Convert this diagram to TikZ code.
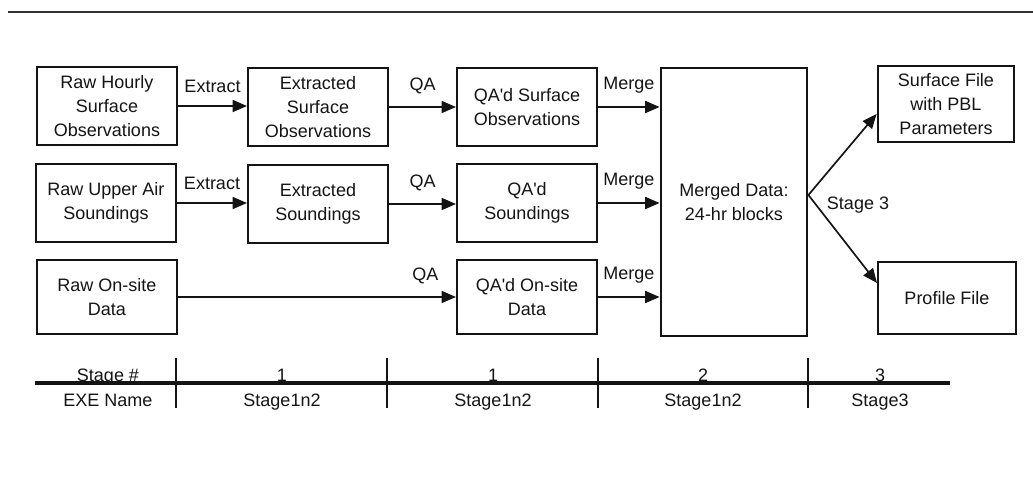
\documentclass[tikz,border=0pt]{standalone}
\usepackage{fontspec}
\setmainfont{Liberation Sans}
\usetikzlibrary{arrows.meta,calc}
\definecolor{ink}{HTML}{141414}

\begin{document}
\begin{tikzpicture}[
  x=0.025cm,y=-0.025cm,
  >={Triangle[length=0.36cm,width=0.3cm]},color=ink,line width=1.2pt,
  font=\fontsize{12.8}{17}\selectfont,
  box/.style={draw,align=center,inner sep=2pt,minimum width=3.5cm,minimum height=1.95cm,line width=1.4pt},
  lab/.style={above=8pt,inner sep=1pt},
  cell/.style={anchor=base,inner sep=0pt}
]
\useasboundingbox (0,0) rectangle (1033,493);
\draw[line width=1.8pt,black!80] (8,12) -- (1033,12);
\node[box] (rawsfc) at (107,106) {Raw Hourly\\Surface\\Observations};
\node[box] (extsfc) at (318,107) {Extracted\\Surface\\Observations};
\node[box] (qasfc) at (527,107) {QA\textquotesingle d Surface\\Observations};
\node[box] (rawua) at (106,203) {Raw Upper Air\\Soundings};
\node[box] (extua) at (318,204) {Extracted\\Soundings};
\node[box] (qaua) at (527,203) {QA\textquotesingle d\\Soundings};
\node[box,minimum height=1.85cm] (rawos) at (107,297) {Raw On-site\\Data};
\node[box,minimum height=1.85cm] (qaos) at (527,297) {QA\textquotesingle d On-site\\Data};
\node[box,minimum width=3.67cm,minimum height=6.7cm] (merged) at (734,202) {Merged Data:\\24-hr blocks};
\node[box,minimum width=3.42cm,minimum height=1.88cm] (sfcfile) at (946,104) {Surface File\\with PBL\\Parameters};
\node[box,minimum width=3.45cm,minimum height=1.8cm] (proffile) at (947,298) {Profile File};
\coordinate (fork) at ($(merged.east)+(0,-7)$);
\draw[->] (rawsfc.east) -- node[lab] {Extract} (extsfc.west |- rawsfc.east);
\draw[->] (rawua.east) -- node[lab] {Extract} (extua.west |- rawua.east);
\draw[->] (extsfc.east) -- node[lab] {QA} (qasfc.west |- extsfc.east);
\draw[->] (extua.east) -- node[lab] {QA} (qaua.west |- extua.east);
\draw[->] (rawos.east) -- node[lab,pos=0.89] {QA} (qaos.west |- rawos.east);
\draw[->] (qasfc.east) -- node[lab] {Merge} (merged.west |- qasfc.east);
\draw[->] (qaua.east) -- node[lab] {Merge} (merged.west |- qaua.east);
\draw[->] (qaos.east) -- node[lab] {Merge} (merged.west |- qaos.east);
\draw[->] (fork) -- ($(sfcfile.west)+(0,10)$);
\draw[->] (fork) -- ($(proffile.west)+(0,-15)$);
\node (stg3) at (858,205) {Stage 3};
% stage table
\draw[line width=2.2pt] (35,383) -- (950,383);
\draw[line width=1pt] (176,358) -- (176,408);
\draw[line width=2pt] (387,358) -- (387,408);
\draw[line width=1pt] (598,358) -- (598,408);
\draw[line width=2pt] (808,358) -- (808,408);
\node[cell] (stghead) at (108,381) {Stage \#};
\node[cell] (exehead) at (108,406) {EXE Name};
\node[cell] (stgA) at (282,381) {1};
\node[cell] (exeA) at (282,406) {Stage1n2};
\node[cell] (stgB) at (493,381) {1};
\node[cell] (exeB) at (493,406) {Stage1n2};
\node[cell] (stgC) at (703,381) {2};
\node[cell] (exeC) at (703,406) {Stage1n2};
\node[cell] (stgD) at (880,381) {3};
\node[cell] (exeD) at (880,406) {Stage3};
\end{tikzpicture}
\end{document}
